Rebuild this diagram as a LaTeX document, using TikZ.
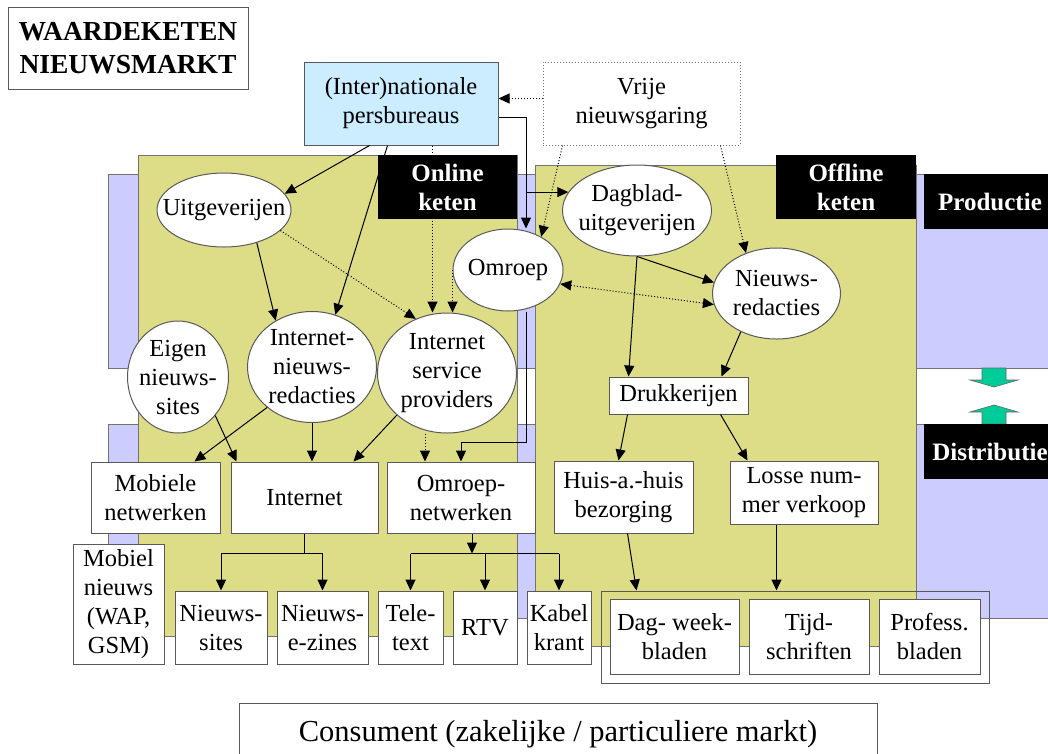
\documentclass[tikz,border=0pt]{standalone}
\usepackage{fontspec}
\setmainfont{Liberation Serif}
\usetikzlibrary{shapes.geometric,arrows.meta}

\definecolor{bandblue}{RGB}{204,204,255}
\definecolor{ketengreen}{RGB}{221,221,136}
\definecolor{persblue}{RGB}{204,236,255}
\definecolor{pijlteal}{RGB}{0,204,153}

\tikzset{
  pbox/.style={draw=black!65, fill=white, inner sep=1pt, align=center,
    font=\fontsize{24.5}{29}\selectfont},
  poval/.style={ellipse, draw=black!65, fill=white, inner sep=0pt},
  ovaltext/.style={align=center, inner sep=0pt, font=\fontsize{24.5}{29}\selectfont},
  tagbox/.style={fill=black, text=white, inner sep=0pt, align=center,
    font=\fontsize{25}{29}\selectfont\bfseries},
  band/.style={draw=black!55, fill=bandblue},
  keten/.style={draw=black!55, fill=ketengreen},
  tealarrow/.style={draw=black!60, line width=0.6pt, fill=pijlteal},
}

\begin{document}
\begin{tikzpicture}[x=1pt, y=-1pt, line width=1pt, >={Triangle[length=11pt,width=10pt]}] %% coordinates in pixels of the original slide

\useasboundingbox (0,0) rectangle (1048,753);
\clip (0,0) rectangle (1048,753);

%% productie / distributie bands and the two chains
\draw[band] (108,174) rectangle (1060,368);
\draw[band] (108,424) rectangle (1060,618);
\draw[keten] (138,155) rectangle (517,636);
\draw[keten] (535,165) rectangle (916,646);
\foreach \y/\s in {368/1,424/-1}
  \filldraw[tealarrow] (982,\y) -- ++(24,0) -- ++(0,12*\s) -- ++(12,0) -- ++(-24,7*\s) -- ++(-24,-7*\s) -- ++(12,0) -- cycle;

\node[pbox, font=\fontsize{27.5}{33}\selectfont\bfseries, minimum width=240pt, minimum height=82pt] (title) at (128,48) {WAARDEKETEN\\NIEUWSMARKT};
\node[pbox, fill=persblue, minimum width=194pt, minimum height=83pt] (pers) at (401,103.5) {(Inter)nationale\\persbureaus};
\node[pbox, draw=black!55, dotted, minimum width=197pt, minimum height=83pt] (vrije) at (641.5,103.5) {Vrije\\nieuwsgaring};

\node[poval, minimum width=134pt, minimum height=74pt, label={[ovaltext]center:Uitgeverijen}] (uitg) at (224,210) {};
\node[poval, minimum width=110pt, minimum height=82pt, label={[ovaltext]center:Omroep}] (omroep) at (508,270) {};
\node[poval, minimum width=149pt, minimum height=91pt, label={[ovaltext]center:{Dagblad-\\uitgeverijen}}] (dagblad) at (637,210.5) {};
\node[poval, minimum width=128pt, minimum height=91pt, label={[ovaltext]center:{Nieuws-\\redacties}}] (nieuws) at (776.5,293.5) {};
\node[poval, minimum width=101pt, minimum height=112pt, label={[ovaltext]center:{Eigen\\nieuws-\\sites}}] (eigen) at (178,377) {};
\node[poval, minimum width=129pt, minimum height=111pt, label={[ovaltext]center:{Internet-\\nieuws-\\redacties}}] (inr) at (312,367) {};
\node[poval, minimum width=139pt, minimum height=120pt, label={[ovaltext]center:{Internet\\service\\providers}}] (isp) at (447,373) {};

\node[pbox, minimum width=139pt, minimum height=37pt] (druk) at (678.5,395.5) {Drukkerijen};
\node[pbox, minimum width=129pt, minimum height=71pt] (mob) at (155.5,497.5) {Mobiele\\netwerken};
\node[pbox, minimum width=147pt, minimum height=71pt] (inet) at (304.5,497.5) {Internet};
\node[pbox, minimum width=148pt, minimum height=71pt] (onet) at (461,497.5) {Omroep-\\netwerken};
\node[pbox, minimum width=139pt, minimum height=72pt] (huis) at (623.5,497) {Huis-a.-huis\\bezorging};
\node[pbox, minimum width=148pt, minimum height=63pt] (losse) at (804,492.5) {Losse num-\\mer verkoop};

\node[pbox, minimum width=91pt, minimum height=120pt] (mobnieuws) at (118.5,604) {Mobiel\\nieuws\\(WAP,\\GSM)};
\node[pbox, minimum width=92pt, minimum height=73pt] (nsites) at (221,627.5) {Nieuws-\\sites};
\node[pbox, minimum width=91pt, minimum height=73pt] (zines) at (322.5,627.5) {Nieuws-\\e-zines};
\node[pbox, minimum width=65pt, minimum height=73pt] (tele) at (410.5,627.5) {Tele-\\text};
\node[pbox, minimum width=64pt, minimum height=73pt] (rtv) at (485,627.5) {RTV};
\node[pbox, minimum width=64pt, minimum height=73pt] (kabel) at (559,627.5) {Kabel\\krant};
\node[draw=black!65, minimum width=388pt, minimum height=92pt] (pubs) at (795,637) {};
\node[pbox, minimum width=129pt, minimum height=75pt] (dag) at (674.5,636.5) {Dag- week-\\bladen};
\node[pbox, minimum width=120pt, minimum height=75pt] (tijd) at (809,636.5) {Tijd-\\schriften};
\node[pbox, minimum width=101pt, minimum height=75pt] (prof) at (929.5,636.5) {Profess.\\bladen};
\node[pbox, font=\fontsize{30.5}{36}\selectfont, minimum width=638pt, minimum height=62pt] (cons) at (558,734) {Consument (zakelijke / particuliere markt)};

%% bronnen
\draw[dotted,->] ([yshift=5pt]vrije.west) -- ([yshift=5pt]pers.east);
\draw[->] ([yshift=-14pt]pers.east) -| ([xshift=18pt]omroep.north);
\draw[->] ([xshift=18pt]omroep.north |- dagblad.165) -- (dagblad.165);
\draw[dotted,->] ([xshift=20pt]vrije.south west) -- (omroep.45);
\draw[dotted,->] ([xshift=-20pt]vrije.south east) -- (nieuws.127);
\draw[->] ([xshift=66pt]pers.south west) -- (uitg.15);
\draw[->] ([xshift=84pt]pers.south west) -- (inr.66);
\draw[dotted,->] ([xshift=129pt]pers.south west) -- ([xshift=129pt]pers.south west |- isp.north);

%% online keten
\draw[->] (uitg.-45) -- (inr.128);
\draw[dotted,->] (uitg.-20) -- (isp.120);
\draw[dotted,->] (omroep.west) -- (omroep.west |- isp.north);
\draw[->] (inr.222) -- ([xshift=104pt]mob.north west);
\draw[->] (eigen.-46) -- ([xshift=6pt]inet.north west);
\draw[->] (inr.south) -- (inr.south |- inet.north);
\draw[->] (isp.220) -- ([xshift=-25pt]inet.north east);
\draw[dotted,->] ([xshift=-22pt]isp.south) -- ([xshift=-22pt]isp.south |- onet.north);
\draw[->] ([xshift=18pt]omroep.south) -- ++(0,131) -| (onet.north);
\foreach \dest in {nsites,zines}
  \draw[->] (inet.south) -- ++(0,20) -| (\dest.north);
\coordinate (tvsplit) at ([xshift=11pt,yshift=-20pt]onet.south);
\draw[->] ([xshift=11pt]onet.south) -- (tvsplit);
\draw (tele.north |- tvsplit) -- (kabel.north |- tvsplit);
\foreach \dest in {tele,rtv,kabel}
  \draw[->] (\dest.north |- tvsplit) -- (\dest.north);

%% offline keten
\draw[dotted,<->] (omroep.-15) -- (nieuws.190);
\draw[->] (dagblad.south) -- (nieuws.170);
\draw[->] (dagblad.south) -- ([xshift=20pt]druk.north west);
\draw[->] (nieuws.-133) -- ([xshift=113pt]druk.north west);
\draw[->] ([xshift=19pt]druk.south west) -- ([xshift=65pt]huis.north west);
\draw[->] ([xshift=112pt]druk.south west) -- ([xshift=18pt]losse.north west);
\draw[->] ([xshift=74pt]huis.south west) -- ([xshift=36pt]pubs.north west);
\draw[->] ([xshift=47pt]losse.south west) -- ([xshift=47pt]losse.south west |- pubs.north);

\node[tagbox, minimum width=139pt, minimum height=64pt] (online) at (447.5,187) {Online\\keten};
\node[tagbox, minimum width=140pt, minimum height=64pt] (offline) at (846,187) {Offline\\keten};
\node[tagbox, minimum width=132pt, minimum height=55pt] (prod) at (990,201.5) {Productie};
\node[tagbox, minimum width=132pt, minimum height=55pt] (distr) at (990,451.5) {Distributie};

\end{tikzpicture}
\end{document}
